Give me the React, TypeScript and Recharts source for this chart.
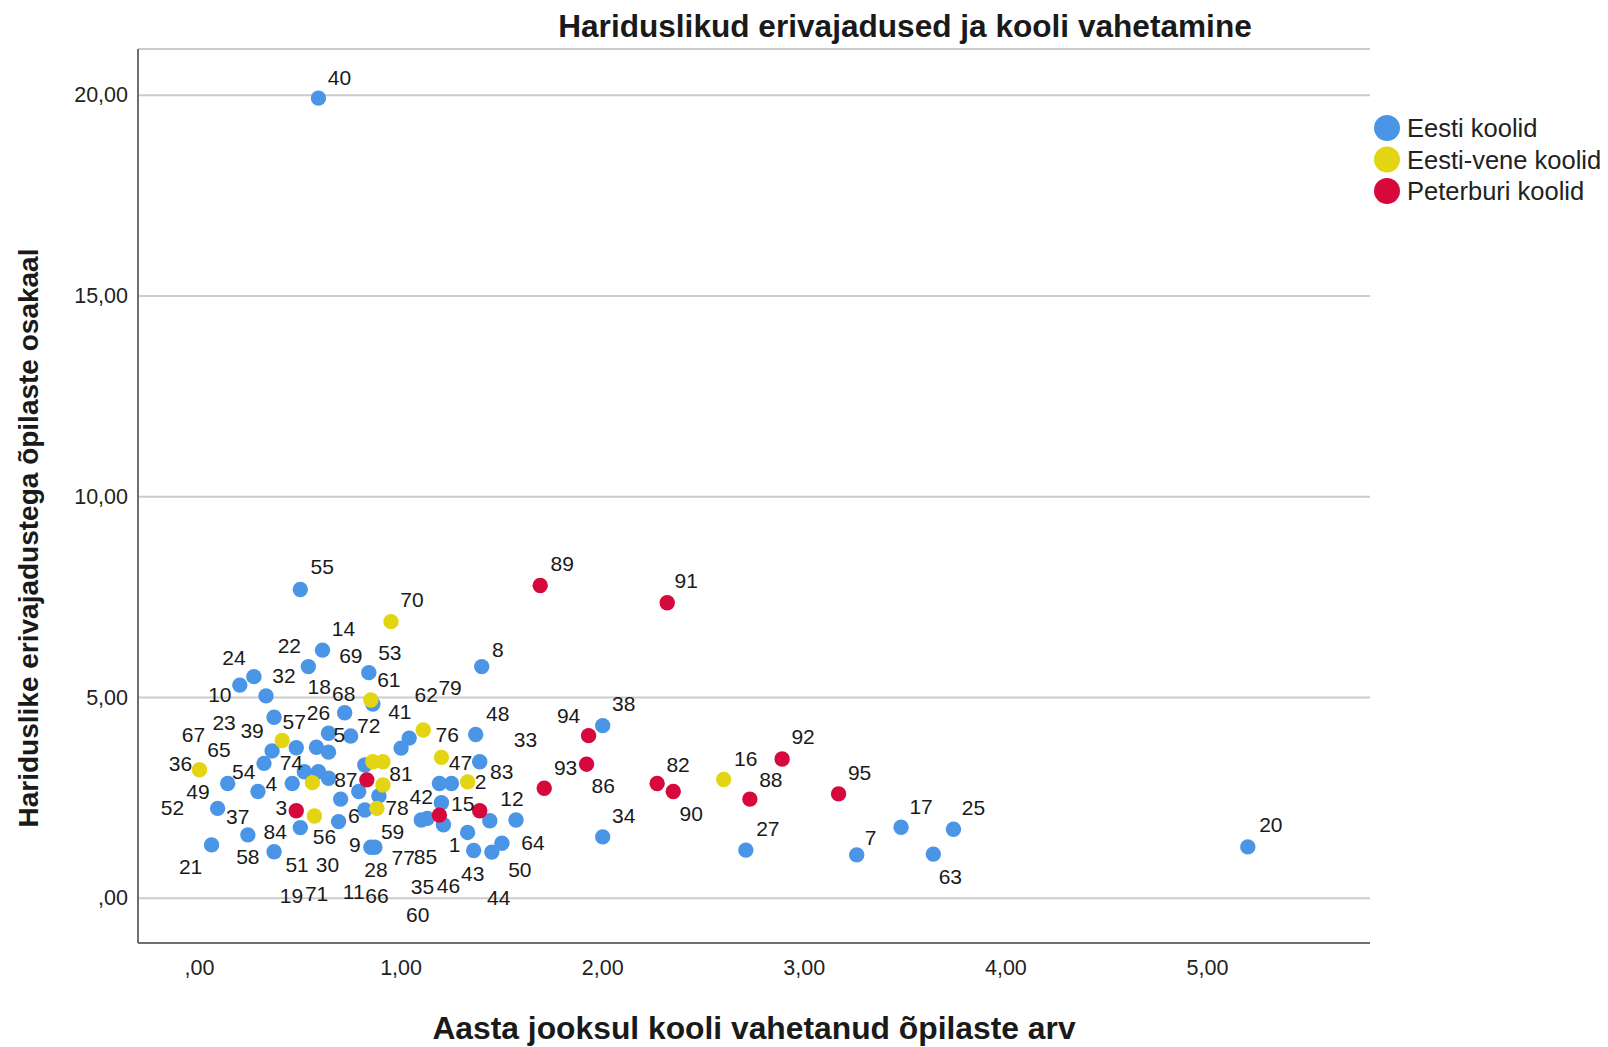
import React from 'react';
import { ScatterChart, Scatter, XAxis, YAxis, CartesianGrid } from 'recharts';

// [kool, vahetanud õpilasi, erivajadustega osakaal]
type Pt = [number, number, number];

const EESTI: Pt[] = [
  [40, 0.59, 19.93], [55, 0.5, 7.69], [14, 0.61, 6.18], [22, 0.54, 5.77],
  [24, 0.27, 5.52], [10, 0.2, 5.31], [32, 0.33, 5.04], [53, 0.84, 5.62],
  [61, 0.86, 4.84], [23, 0.37, 4.51], [68, 0.72, 4.62], [26, 0.64, 4.11],
  [72, 0.75, 4.04], [18, 0.48, 3.75], [5, 0.58, 3.76], [30, 0.64, 3.64],
  [39, 0.36, 3.67], [65, 0.32, 3.36], [74, 0.52, 3.15], [67, 0.59, 3.15],
  [19, 0.64, 2.99], [54, 0.14, 2.86], [4, 0.46, 2.86], [60, 0.82, 3.32],
  [62, 1.04, 3.99], [79, 1.0, 3.74], [8, 1.4, 5.77], [48, 1.37, 4.08],
  [83, 1.39, 3.4], [29, 1.19, 2.86], [33, 1.25, 2.86], [38, 2.0, 4.3],
  [46, 1.2, 2.38], [85, 1.21, 1.83], [42, 1.1, 1.95], [77, 1.13, 1.99],
  [44, 1.44, 1.93], [12, 1.57, 1.95], [1, 1.33, 1.64], [43, 1.36, 1.19],
  [50, 1.45, 1.15], [64, 1.5, 1.37], [34, 2.0, 1.53], [27, 2.71, 1.2],
  [7, 3.26, 1.08], [17, 3.48, 1.77], [63, 3.64, 1.1], [25, 3.74, 1.72],
  [20, 5.2, 1.28], [49, 0.29, 2.66], [37, 0.09, 2.24], [84, 0.5, 1.76],
  [58, 0.24, 1.58], [21, 0.06, 1.33], [51, 0.37, 1.16], [11, 0.79, 2.66],
  [66, 0.89, 2.55], [71, 0.7, 2.47], [59, 0.69, 1.91], [6, 0.82, 2.2],
  [9, 0.85, 1.27], [28, 0.87, 1.27],
];

const EESTI_VENE: Pt[] = [
  [41, 0.85, 4.94], [57, 0.41, 3.93], [36, 0.0, 3.2], [52, 0.56, 2.88],
  [69, 0.86, 3.4], [13, 0.91, 3.4], [81, 0.91, 2.82], [76, 1.11, 4.19],
  [47, 1.2, 3.51], [2, 1.33, 2.9], [16, 2.6, 2.96], [70, 0.95, 6.89],
  [56, 0.57, 2.05], [78, 0.88, 2.24],
];

const PETERBURI: Pt[] = [
  [87, 0.83, 2.95], [94, 1.93, 4.05], [93, 1.92, 3.34], [86, 1.71, 2.74],
  [82, 2.27, 2.86], [90, 2.35, 2.66], [35, 1.19, 2.07], [15, 1.39, 2.18],
  [92, 2.89, 3.47], [88, 2.73, 2.47], [95, 3.17, 2.6], [89, 1.69, 7.79],
  [91, 2.32, 7.36], [3, 0.48, 2.18],
];

const SERIES = [
  { name: 'Eesti koolid', color: '#4a95e5', points: EESTI },
  { name: 'Eesti-vene koolid', color: '#e3d513', points: EESTI_VENE },
  { name: 'Peterburi koolid', color: '#d6083c', points: PETERBURI },
];

const X_TICKS = [0, 1, 2, 3, 4, 5];
const Y_TICKS = [0, 5, 10, 15, 20];

// where SPSS put each point's label, in px from the point
const LABEL_OFFSET: Record<number, [number, number]> = {
  40: [21, -21], 55: [22, -23], 14: [21, -22], 22: [-19, -21], 24: [-20, -19],
  10: [-20, 9], 32: [18, -20], 53: [21, -20], 61: [16, -24], 23: [-50, 5],
  68: [-1, -19], 26: [-10, -21], 72: [18, -11], 18: [23, -61], 5: [23, -13],
  30: [-1, 112], 39: [-20, -20], 65: [-45, -14], 74: [-13, -9], 67: [-125, -37],
  19: [-37, 117], 54: [16, -12], 4: [-21, 0], 60: [53, 150], 62: [17, -44],
  79: [49, -61], 8: [16, -17], 48: [22, -21], 83: [22, 10], 33: [74, -44],
  38: [21, -22], 46: [7, 83], 85: [-18, 32], 42: [0, -23], 77: [-24, 39],
  44: [9, 77], 12: [-4, -21], 1: [-13, 12], 43: [-1, 23], 50: [28, 17],
  64: [31, -1], 34: [21, -21], 27: [22, -22], 7: [14, -17], 17: [20, -21],
  63: [17, 22], 25: [20, -22], 20: [23, -22], 49: [-60, 0], 37: [20, 8],
  84: [-25, 4], 58: [0, 22], 21: [-21, 22], 51: [23, 13], 11: [-5, 100],
  66: [-2, 100], 71: [-24, 94], 59: [54, 10], 6: [-11, 6], 9: [-16, -3],
  28: [1, 22],
  41: [29, 12], 57: [12, -19], 36: [-19, -6], 52: [-140, 25], 69: [-22, -106],
  81: [18, -12], 76: [24, 4], 47: [19, 5], 2: [13, 0], 16: [22, -21],
  70: [21, -22], 56: [10, 21], 78: [20, -1],
  87: [-21, 0], 94: [-20, -20], 93: [-21, 3], 86: [59, -3], 82: [21, -19],
  90: [18, 22], 35: [-17, 71], 15: [-17, -7], 92: [21, -22], 88: [21, -20],
  95: [21, -21], 89: [22, -22], 91: [19, -22], 3: [-15, -3],
};

const FONT = '"Liberation Sans", Arial, sans-serif';
const fmt = (v: number) => (v === 0 ? ',00' : `${v},00`);

const toRows = (pts: Pt[]) => pts.map(([id, x, y]) => ({ id, x, y }));
const ALL_ROWS = SERIES.flatMap(s => toRows(s.points));

const XTick = ({ x, payload }: any) => (
  <text x={x} y={968} textAnchor="middle" dominantBaseline="central" fontSize={21.5} fill="#222" fontFamily={FONT}>
    {fmt(payload.value)}
  </text>
);

const YTick = ({ y, payload }: any) => (
  <text x={128} y={y} textAnchor="end" dominantBaseline="central" fontSize={21.5} fill="#222" fontFamily={FONT}>
    {fmt(payload.value)}
  </text>
);

const dot = (color: string) => (props: any) => (
  <circle cx={props.cx} cy={props.cy} r={7.7} fill={color} />
);

const pointLabel = (props: any) => {
  const off = LABEL_OFFSET[props.payload?.id];
  if (!off) return <g />;
  return (
    <text
      x={props.cx + off[0]}
      y={props.cy + off[1]}
      textAnchor="middle"
      dominantBaseline="central"
      fontSize={21}
      fill="#1a1a1a"
      fontFamily={FONT}
    >
      {props.payload.id}
    </text>
  );
};

export default function App() {
  return (
    <div style={{ position: 'relative', width: 1608, height: 1047, background: '#fff', fontFamily: FONT }}>
      <style>{'body{margin:0}'}</style>
      <ScatterChart width={1608} height={1047} margin={{ top: 49, right: 238, bottom: 0, left: 0 }}>
        <CartesianGrid vertical={false} stroke="#cccccc" strokeWidth={2} />
        <XAxis
          type="number"
          dataKey="x"
          domain={[-0.305, 5.806]}
          ticks={X_TICKS}
          allowDataOverflow
          height={104}
          tickSize={0}
          tickLine={false}
          tick={<XTick />}
          axisLine={{ stroke: '#6f6f6f', strokeWidth: 2 }}
        />
        <YAxis
          type="number"
          dataKey="y"
          domain={[-1.114, 21.153]}
          ticks={Y_TICKS}
          allowDataOverflow
          width={138}
          tickSize={0}
          tickLine={false}
          tick={<YTick />}
          axisLine={{ stroke: '#6f6f6f', strokeWidth: 2 }}
        />
        {SERIES.map(s => (
          <Scatter
            key={s.name}
            name={s.name}
            data={toRows(s.points)}
            fill={s.color}
            shape={dot(s.color)}
            isAnimationActive={false}
          />
        ))}
        <Scatter data={ALL_ROWS} shape={pointLabel} legendType="none" isAnimationActive={false} />
      </ScatterChart>

      <svg width={1608} height={1047} style={{ position: 'absolute', left: 0, top: 0, pointerEvents: 'none' }}>
        <text x={905} y={26} textAnchor="middle" dominantBaseline="central" fontSize={31.6} fontWeight="bold" fill="#1a1a1a" fontFamily={FONT}>
          Hariduslikud erivajadused ja kooli vahetamine
        </text>
        <text x={754} y={1028} textAnchor="middle" dominantBaseline="central" fontSize={31.8} fontWeight="bold" fill="#1a1a1a" fontFamily={FONT}>
          Aasta jooksul kooli vahetanud õpilaste arv
        </text>
        <text
          transform="translate(28,538) rotate(-90)"
          textAnchor="middle"
          dominantBaseline="central"
          fontSize={28}
          fontWeight="bold"
          fill="#1a1a1a"
          fontFamily={FONT}
        >
          Hariduslike erivajadustega õpilaste osakaal
        </text>
        {SERIES.map((s, i) => (
          <g key={s.name}>
            <circle cx={1387} cy={128 + i * 31.5} r={13} fill={s.color} />
            <text x={1407} y={128 + i * 31.5} dominantBaseline="central" fontSize={25.5} fill="#222" fontFamily={FONT}>
              {s.name}
            </text>
          </g>
        ))}
      </svg>
    </div>
  );
}
